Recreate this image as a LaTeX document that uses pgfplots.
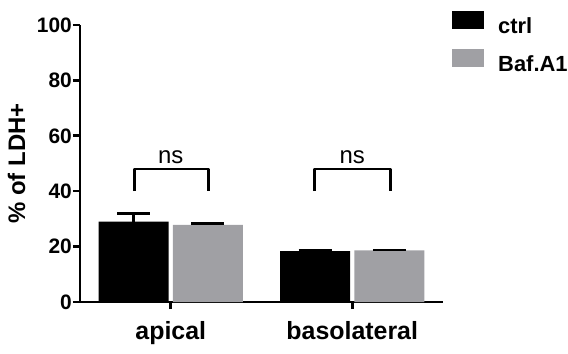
\documentclass[border=0pt]{standalone}
\usepackage{pgfplots}
\pgfplotsset{compat=1.18}
\usepackage{fontspec}
\setmainfont{Liberation Sans}
\definecolor{bafgray}{RGB}{160,160,164}
\begin{document}
\begin{tikzpicture}
\useasboundingbox (-80bp,-52bp) rectangle (488bp,302bp);
\begin{axis}[
  at={(0,0)}, anchor=south west,
  scale only axis, width=363bp, height=277bp,
  xmin=-0.5, xmax=1.5, ymin=0, ymax=100,
  axis x line*=bottom, axis y line*=left,
  axis line style={line width=2.6bp},
  tick style={line width=2.6bp, black},
  tick align=outside, major tick length=7bp,
  xtick={0,1}, xticklabels={apical,basolateral},
  ytick={0,20,40,60,80,100},
  /pgf/number format/assume math mode=true,
  yticklabel style={font=\fontsize{21}{21}\selectfont\bfseries, inner sep=0pt, anchor=east, xshift=-1bp},
  xticklabel style={font=\fontsize{25}{25}\selectfont\bfseries, inner sep=0pt, anchor=base, yshift=-30bp},
  ylabel={\% of LDH+},
  ylabel style={font=\fontsize{24}{24}\selectfont\bfseries, at={(axis description cs:-0.175,0.5)}, anchor=center},
  legend image code/.code={\fill[#1] (0bp,-2.5bp) rectangle (32bp,15.5bp);},
  legend style={at={(1.0248,1.0505)}, anchor=north west, draw=none, fill=none, inner sep=0pt,
    font=\fontsize{22}{22}\selectfont\bfseries, row sep=13.5bp, column sep=14bp,
    nodes={inner sep=0pt}},
  legend cell align=left,
  clip=false,
]
\addplot[ybar, bar width=70bp, bar shift=0pt, fill=black, draw=none,
  error bars/.cd, y dir=plus, y explicit,
  error bar style={line width=2.6bp, black},
  error mark options={rotate=90, mark size=16.5bp, line width=2.6bp, black}]
  coordinates {(-0.204,29.0) +- (0,3.0) (0.796,18.4) +- (0,0.2)};
\addlegendentry{ctrl}
\addplot[ybar, bar width=70bp, bar shift=0pt, fill=bafgray, draw=none,
  error bars/.cd, y dir=plus, y explicit,
  error bar style={line width=2.6bp, black},
  error mark options={rotate=90, mark size=16.5bp, line width=2.6bp, black}]
  coordinates {(0.204,27.8) +- (0,0.5) (1.204,18.6) +- (0,0.2)};
\addlegendentry{Baf.A1}
\draw[line width=2.8bp, line join=round] (axis cs:-0.2,40) -- (axis cs:-0.2,48) -- (axis cs:0.21,48) -- (axis cs:0.21,40);
\draw[line width=2.8bp, line join=round] (axis cs:0.79,40) -- (axis cs:0.79,48) -- (axis cs:1.21,48) -- (axis cs:1.21,40);
\node[font=\fontsize{24}{24}\selectfont, anchor=base] at (axis cs:0.0,50) {ns};
\node[font=\fontsize{24}{24}\selectfont, anchor=base] at (axis cs:1.0,50) {ns};
\end{axis}
\end{tikzpicture}
\end{document}
